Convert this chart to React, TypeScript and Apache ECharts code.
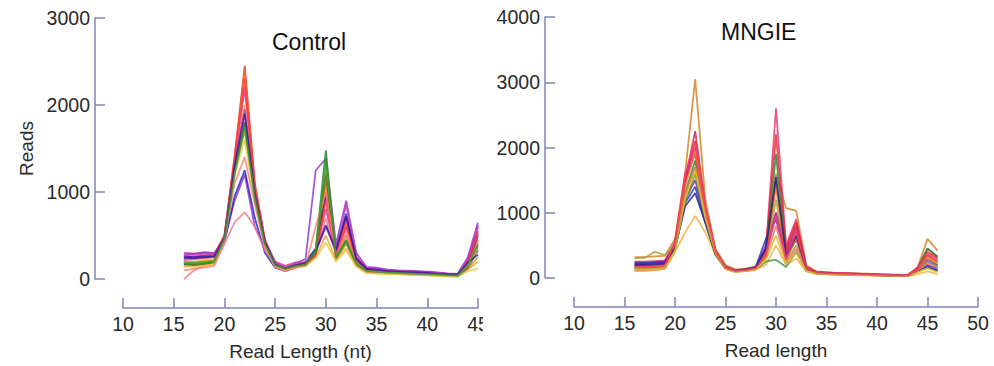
import React, { useEffect, useRef } from "react";
import * as echarts from "echarts";

const controlLengths = [16,17,18,19,20,21,22,23,24,25,26,27,28,29,30,31,32,33,34,35,36,37,38,39,40,41,42,43,44,45];
const mngieLengths = [16,17,18,19,20,21,22,23,24,25,26,27,28,29,30,31,32,33,34,35,36,37,38,39,40,41,42,43,44,45,46];

const xTicksLeft = [10, 15, 20, 25, 30, 35, 40, 45];
const yTicksLeft = [0, 1000, 2000, 3000];
const yTicksRight = [0, 1000, 2000, 3000, 4000];

const controlColors = ["#e8202a","#f07818","#e83080","#9030c8","#2020c0","#208020","#b0a020","#f0a040","#f07890","#c040c0","#606020","#ff3838","#e8c840","#ff8070","#3018a0","#30a030"];
const controlReads: number[][] = [
  [250,260,270,280,500,1400,2450,1100,450,180,120,170,170,280,1000,280,600,220,110,100,90,85,80,70,70,60,55,50,200,550],
  [180,190,200,210,480,1350,2400,1050,430,160,110,150,160,260,1100,260,500,200,100,95,85,80,75,65,60,55,50,45,160,450],
  [280,290,300,290,470,1300,2200,1000,420,200,150,190,190,320,800,300,700,250,130,120,100,95,90,85,80,70,60,55,220,600],
  [300,290,310,300,450,900,1200,600,350,150,100,180,230,1250,1380,400,900,300,140,130,110,100,95,90,85,75,65,60,250,650],
  [260,250,260,260,420,950,1250,700,300,130,90,130,200,350,950,350,750,240,120,110,95,90,85,80,75,65,55,50,180,500],
  [170,170,180,200,460,1200,1800,900,400,160,120,150,170,350,1480,250,450,180,90,85,75,70,65,60,55,50,45,40,150,380],
  [200,200,210,220,490,1250,1700,950,420,170,130,160,180,300,1300,230,400,170,80,75,70,65,60,55,50,45,40,35,120,250],
  [140,150,160,180,460,1300,2000,950,380,150,100,140,150,250,500,220,350,150,70,65,60,55,50,45,45,40,35,30,110,200],
  [0,100,150,170,400,650,770,600,330,170,130,170,190,300,700,280,550,220,100,95,85,80,75,70,65,60,50,45,170,420],
  [270,280,290,290,480,1350,1950,1000,440,190,140,180,190,310,600,320,850,260,130,120,105,95,90,85,80,70,60,55,230,620],
  [160,160,170,190,470,1250,1800,920,400,150,110,140,160,280,1200,240,430,170,85,80,70,65,60,55,50,45,40,35,130,330],
  [220,230,240,250,500,1400,2300,1050,440,170,120,160,170,270,900,270,650,210,105,95,85,80,75,70,65,60,50,45,190,520],
  [150,140,150,170,450,1200,1600,900,380,140,100,130,150,240,420,200,330,140,70,65,60,55,50,45,40,35,30,25,90,120],
  [100,120,130,150,430,1100,1400,850,360,140,90,130,150,600,1000,260,500,190,90,85,75,70,65,60,55,50,45,40,150,350],
  [240,240,250,260,470,1300,1900,980,420,170,120,160,180,320,620,330,720,230,115,105,90,85,80,75,70,60,55,50,190,280],
  [190,180,190,200,460,1200,1750,930,400,160,120,150,165,320,1350,260,440,180,95,85,75,70,65,60,55,50,45,40,160,400],
];

const mngieColors = ["#d08020","#c02040","#e83070","#e82020","#208030","#7020b0","#2030c0","#f0b040","#a0a030","#c030a0","#409040","#f07020","#f07070","#202080","#e0c020","#ff4060"];
const mngieReads: number[][] = [
  [320,320,330,340,600,1600,3050,1200,450,200,130,140,180,400,1600,1070,1030,200,100,90,80,75,70,65,60,55,50,45,150,600,420],
  [250,250,260,270,550,1500,2250,1100,420,180,120,140,170,350,1500,400,800,160,90,80,75,70,65,60,55,50,45,40,130,350,250],
  [200,210,220,230,520,1500,1900,1000,400,160,110,130,160,450,2600,500,900,170,95,85,75,70,65,60,55,50,45,40,160,450,320],
  [180,180,190,200,500,1450,2100,1050,410,150,100,120,150,420,2200,450,850,160,90,80,70,65,60,55,50,45,40,35,140,400,300],
  [150,150,160,170,450,1300,1800,950,380,140,100,120,140,350,1900,300,650,140,80,70,65,60,55,50,45,40,35,30,120,450,330],
  [220,220,230,240,480,1200,1500,900,380,150,100,120,150,500,1000,350,700,140,80,70,65,60,55,50,45,40,35,30,100,200,150],
  [230,230,240,250,470,1150,1400,850,370,150,110,130,170,600,900,300,600,130,80,70,65,60,55,50,45,40,35,30,110,180,120],
  [120,120,130,150,400,700,950,700,350,150,100,110,130,200,500,200,300,100,60,55,50,45,40,40,35,35,30,30,60,100,60],
  [300,310,400,350,500,1300,1700,950,400,160,110,130,160,300,1200,250,500,130,80,70,65,60,55,50,45,40,35,30,120,300,200],
  [180,180,190,200,520,1550,2000,1050,420,160,110,120,150,400,1000,380,750,150,85,75,70,65,60,55,50,45,40,35,130,280,200],
  [140,140,150,160,430,1150,1600,900,370,140,100,110,130,250,280,170,400,110,70,60,55,50,45,45,40,35,30,30,100,250,180],
  [160,160,170,180,480,1400,1950,1000,400,150,100,120,150,380,1400,280,600,140,80,70,65,60,55,50,45,40,35,30,120,320,230],
  [110,110,120,140,420,1250,1700,950,380,140,90,110,130,300,800,220,450,120,70,60,55,50,45,45,40,35,30,30,100,220,160],
  [200,200,210,220,460,1100,1300,850,370,150,110,130,160,450,1550,330,650,140,80,70,65,60,55,50,45,40,35,30,100,160,110],
  [130,130,140,150,420,1200,1650,920,380,140,90,110,130,280,650,200,380,110,70,60,55,50,45,45,40,35,30,30,90,150,90],
  [170,170,180,190,550,1600,2100,1100,420,160,110,120,150,350,950,300,700,150,85,75,70,65,60,55,50,45,40,35,130,380,270],
];

const AXIS = "#8084b8";
const FONT = "'Liberation Sans', Arial, sans-serif";
const TXT = "#2a2a2a";

export default function App() {
  const ref = useRef<HTMLDivElement>(null);
  useEffect(() => {
    document.body.style.margin = "0";
    if (!ref.current) return;
    const chart = echarts.init(ref.current, null, { renderer: "svg" });
    const label = { color: TXT, fontSize: 19.5, fontFamily: FONT, formatter: (v: number) => String(v) };
    const axisCommon = {
      axisLine: { show: true, onZero: false, lineStyle: { color: AXIS, width: 1.5 } },
      axisTick: { show: true, inside: true, length: 10, lineStyle: { color: AXIS, width: 1.5 } },
      splitLine: { show: false },
      nameTextStyle: { color: TXT, fontSize: 19, fontFamily: FONT },
    };
    const series: any[] = [];
    controlReads.forEach((vals, i) => {
      series.push({
        type: "line", xAxisIndex: 0, yAxisIndex: 0, symbol: "none", silent: true,
        lineStyle: { color: controlColors[i], width: 1.8, opacity: 0.8 },
        data: vals.map((v, j) => [controlLengths[j], v]),
      });
    });
    mngieReads.forEach((vals, i) => {
      series.push({
        type: "line", xAxisIndex: 1, yAxisIndex: 1, symbol: "none", silent: true,
        lineStyle: { color: mngieColors[i], width: 1.8, opacity: 0.8 },
        data: vals.map((v, j) => [mngieLengths[j], v]),
      });
    });
    chart.setOption({
      animation: false,
      backgroundColor: "#ffffff",
      grid: [
        { left: 123, top: 18, width: 355, height: 261 },
        { left: 574, top: 17, width: 404, height: 261 },
      ],
      xAxis: [
        { ...axisCommon, type: "value", gridIndex: 0, min: xTicksLeft[0], max: xTicksLeft[xTicksLeft.length - 1], interval: 5, offset: 29,
          axisLabel: { ...label, margin: 6 },
          name: "Read Length (nt)", nameLocation: "middle", nameGap: 34 },
        { ...axisCommon, type: "value", gridIndex: 1, min: 10, max: 50, interval: 5, offset: 29,
          axisLabel: { ...label, margin: 6 },
          name: "Read length", nameLocation: "middle", nameGap: 34 },
      ],
      yAxis: [
        { ...axisCommon, type: "value", gridIndex: 0, min: yTicksLeft[0], max: yTicksLeft[yTicksLeft.length - 1], interval: 1000, offset: 28,
          axisLabel: { ...label, margin: 5 },
          name: "Reads", nameLocation: "middle", nameGap: 59 },
        { ...axisCommon, type: "value", gridIndex: 1, min: yTicksRight[0], max: yTicksRight[yTicksRight.length - 1], interval: 1000, offset: 29,
          axisLabel: { ...label, margin: 5 } },
      ],
      graphic: [
        { type: "text", left: 272, top: 30, style: { text: "Control", fill: "#111", fontSize: 23, fontFamily: FONT } },
        { type: "text", left: 721, top: 20, style: { text: "MNGIE", fill: "#111", fontSize: 23, fontFamily: FONT } },
        { type: "rect", shape: { x: 483, y: 311, width: 16, height: 26 }, style: { fill: "#ffffff" }, z: 100 },
      ],
      series,
    });
    return () => chart.dispose();
  }, []);
  return <div ref={ref} style={{ width: 994, height: 366 }} />;
}
